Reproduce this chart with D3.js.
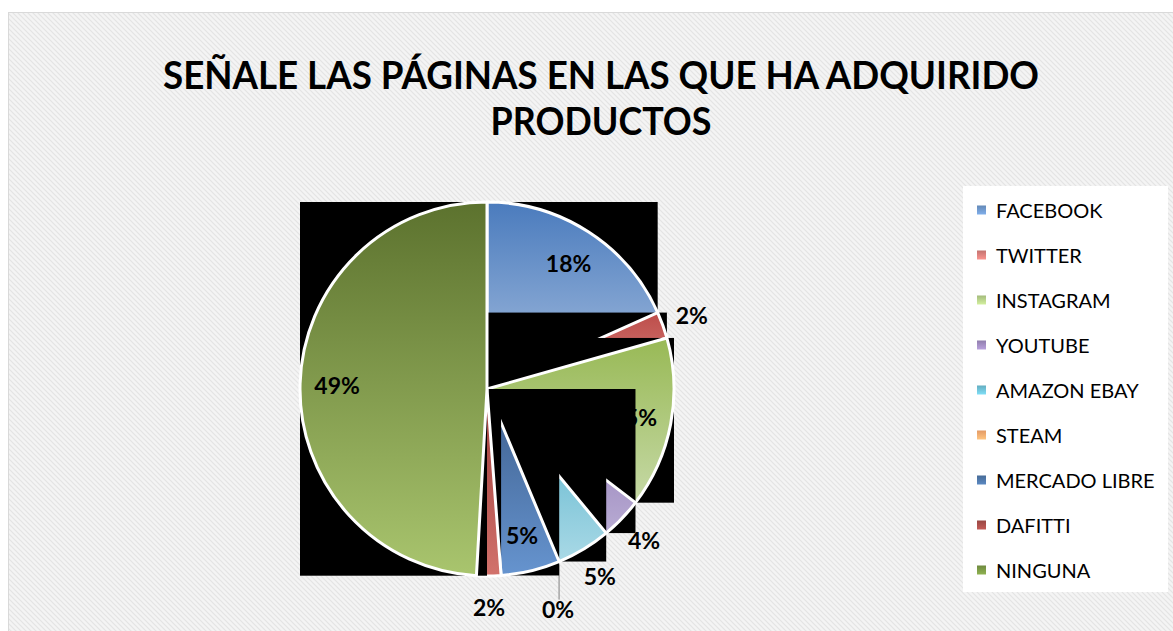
<!DOCTYPE html>
<html>
<head>
<meta charset="utf-8">
<script src="https://cdn.jsdelivr.net/npm/d3@7"></script>
<style>
  body { margin: 0; background: #ffffff; }
  svg { display: block; }
  .lab { font-family: Lato, "Open Sans", sans-serif; font-weight: bold; font-size: 23px; fill: #000; }
  .leg { font-family: Lato, "Open Sans", sans-serif; font-size: 20px; fill: #000; }
</style>
</head>
<body>
<div id="chart"></div>
<script>
// values (percent of answers)
var categories = ["FACEBOOK", "TWITTER", "INSTAGRAM", "YOUTUBE", "AMAZON EBAY", "STEAM", "MERCADO LIBRE", "DAFITTI", "NINGUNA"];
var values = [18.3, 2.3, 14.8, 3.6, 4.7, 0, 5.1, 2.1, 49.1];
var titleLines = ["SEÑALE LAS PÁGINAS EN LAS QUE HA ADQUIRIDO", "PRODUCTOS"];

// top / bottom of each slice gradient, legend marker colour
var topColors = ["#4a7bbd", "#bd4d4a", "#98b955", "#8a72b0", "#4eaec8", "#f79646", "#3d5e8c", "#9c3b38", "#5c722e"];
var botColors = ["#a9c0e0", "#d8857f", "#c6d9a6", "#b8abd3", "#a9d9e6", "#fcc08f", "#6694cf", "#d2726c", "#a9c56e"];
var legColors = ["#6f98cc", "#d9807c", "#b7d08a", "#a08cc0", "#6fc1d6", "#fdab70", "#4f77a8", "#a94f4b", "#7c9a46"];
// where Excel's "best fit" put each data label
var labelPlace = ["in", "out", "in", "out", "out", "out", "in", "out", "in"];

const W = 1173, H = 631;
const cx = 487, cy = 389, radius = 187;
const titleWidths = [876, 221];   // width of each title line in the picture

var svg = d3.select("#chart").append("svg")
  .attr("width", W)
  .attr("height", H);

var defs = svg.append("defs");

var pat = defs.append("pattern")
  .attr("id", "hatch")
  .attr("patternUnits", "userSpaceOnUse")
  .attr("width", 5)
  .attr("height", 5);
pat.append("rect").attr("width", 5).attr("height", 5).attr("fill", "#f4f4f4");
pat.append("path").attr("d", "M-1,-1 L6,6 M-1,4 L1,6 M4,-1 L6,1")
  .attr("stroke", "#e4e4e4").attr("stroke-width", 1.2);

categories.forEach(function(c, i) {
  var g = defs.append("linearGradient")
    .attr("id", "grad" + i)
    .attr("x1", 0).attr("y1", 0).attr("x2", 0).attr("y2", 1);
  g.append("stop").attr("offset", "0%").attr("stop-color", topColors[i]);
  g.append("stop").attr("offset", "100%").attr("stop-color", botColors[i]);
  var lg = defs.append("linearGradient")
    .attr("id", "lgrad" + i)
    .attr("x1", 0).attr("y1", 0).attr("x2", 0).attr("y2", 1);
  lg.append("stop").attr("offset", "0%").attr("stop-color", d3.color(legColors[i]).darker(0.3));
  lg.append("stop").attr("offset", "100%").attr("stop-color", d3.color(legColors[i]).brighter(0.4));
});

// chart area
svg.append("rect")
  .attr("x", 8.5).attr("y", 12.5)
  .attr("width", W).attr("height", H)
  .attr("fill", "url(#hatch)")
  .attr("stroke", "#d9d9d9")
  .attr("stroke-width", 1);

// title, squeezed to the narrow width it has in the picture
svg.append("g").selectAll("text")
  .data(titleLines)
  .enter()
  .append("text")
  .attr("class", "lab")
  .attr("text-anchor", "middle")
  .style("font-size", "39px")
  .attr("x", 601)
  .attr("y", function(d, i) { return 89 + i * 46; })
  .attr("textLength", function(d, i) { return titleWidths[i]; })
  .attr("lengthAdjust", "spacingAndGlyphs")
  .text(function(d) { return d; });

// pie
var pie = d3.pie().sort(null).value(function(d) { return d; });
var arcs = pie(values);
var arc = d3.arc().innerRadius(0).outerRadius(radius);
var inArc = d3.arc().innerRadius(150).outerRadius(150);
var outArc = d3.arc().innerRadius(218).outerRadius(218);
var fmt = d3.format(".0%");

var pieG = svg.append("g")
  .attr("transform", "translate(" + cx + "," + cy + ")");

arcs.forEach(function(a, i) {
  var layer = pieG.append("g");
  var box = layer.append("rect").attr("fill", "#000");
  var p = layer.append("path")
    .attr("d", arc(a))
    .attr("fill", "url(#grad" + i + ")")
    .attr("stroke", "#ffffff")
    .attr("stroke-width", 3)
    .attr("stroke-linejoin", "round");
  var bb = p.node().getBBox();
  // the slice's bounding box shows up black in the picture
  box.attr("x", bb.x).attr("y", bb.y).attr("width", bb.width).attr("height", bb.height);

  var pos;
  if (a.value == 0) {
    var ex = radius * Math.sin(a.startAngle), ey = -radius * Math.cos(a.startAngle);
    layer.append("line")
      .attr("x1", ex).attr("y1", ey + 3)
      .attr("x2", ex).attr("y2", ey + 38)
      .attr("stroke", "#a6a6a6")
      .attr("stroke-width", 1.5);
    pos = [ex - 1, ey + 47];
  } else if (labelPlace[i] == "in") {
    pos = inArc.centroid(a);
  } else {
    pos = outArc.centroid(a);
  }
  layer.append("text")
    .attr("class", "lab")
    .attr("x", pos[0])
    .attr("y", pos[1])
    .attr("text-anchor", "middle")
    .attr("dominant-baseline", "central")
    .text(fmt(a.value / 100));
});

// legend
var legend = svg.append("g");
legend.append("rect")
  .attr("x", 963).attr("y", 186)
  .attr("width", 205).attr("height", 406)
  .attr("fill", "#ffffff");

var item = legend.selectAll("g.item")
  .data(categories)
  .enter()
  .append("g")
  .attr("class", "item")
  .attr("transform", function(d, i) { return "translate(977," + (210 + i * 45) + ")"; });
item.append("rect")
  .attr("x", 0).attr("y", -4.5)
  .attr("width", 9).attr("height", 9)
  .attr("fill", function(d, i) { return "url(#lgrad" + i + ")"; });
item.append("text")
  .attr("class", "leg")
  .attr("x", 19)
  .attr("y", 0)
  .attr("dominant-baseline", "central")
  .text(function(d) { return d; });
</script>
</body>
</html>
